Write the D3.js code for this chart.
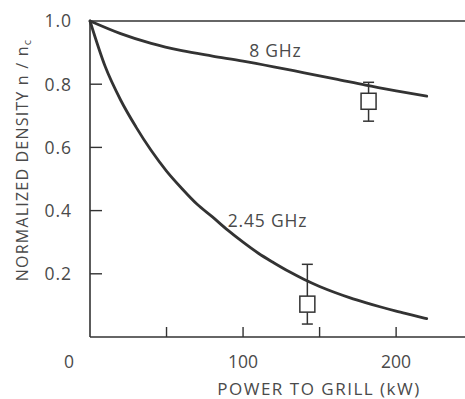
<!DOCTYPE html>
<html>
<head>
<meta charset="utf-8">
<script src="https://cdn.jsdelivr.net/npm/d3@7"></script>
<style>
html,body{margin:0;padding:0;background:#fff;}
svg{display:block;}
text{font-family:"Open Sans",sans-serif;fill:#4a4a4a;}
</style>
</head>
<body>
<svg id="chart" width="465" height="399"></svg>
<script>
// ---- data ----
const powerKW = [0, 10, 20, 30, 40, 50, 60, 70, 80, 90, 100, 110, 120, 130, 140, 150, 160, 170, 180, 190, 200, 210, 220];
const density245GHz = [1.0, 0.855, 0.75, 0.665, 0.59, 0.525, 0.47, 0.42, 0.38, 0.338, 0.3, 0.265, 0.235, 0.207, 0.182, 0.16, 0.141, 0.124, 0.109, 0.095, 0.082, 0.07, 0.058];
const power8GHz = [0, 20, 40, 60, 80, 100, 120, 140, 160, 180, 200, 220];
const density8GHz = [1.0, 0.96, 0.929, 0.906, 0.889, 0.873, 0.855, 0.836, 0.817, 0.797, 0.779, 0.762];
const measPower = [182, 142];
const measValue = [0.746, 0.104];
const measLow = [0.683, 0.041];
const measHigh = [0.806, 0.23];
const curveLabels = ["8 GHz", "2.45 GHz"];
const curveLabelPos = [[104, 0.886], [90, 0.348]];
const xTicks = [50, 100, 150, 200];
const xTickLabels = [100, 200];
const yTicks = [0.2, 0.4, 0.6, 0.8];
const yTickLabels = [0.2, 0.4, 0.6, 0.8, 1.0];

const svg = d3.select("#chart");
const x = d3.scaleLinear().domain([0, 245]).range([90, 465]);
const y = d3.scaleLinear().domain([0, 1]).range([337, 21]);
const ink = "#333";

// frame: left axis, bottom axis, top line
svg.append("line").attr("x1", x(0)).attr("x2", x(0)).attr("y1", y(0)).attr("y2", y(1))
  .attr("stroke", ink).attr("stroke-width", 1.6);
svg.append("line").attr("x1", x(0)).attr("x2", x(245)).attr("y1", y(0)).attr("y2", y(0))
  .attr("stroke", ink).attr("stroke-width", 1.6);
svg.append("line").attr("x1", x(0)).attr("x2", x(245)).attr("y1", y(1)).attr("y2", y(1))
  .attr("stroke", ink).attr("stroke-width", 1.4);

// inward ticks
svg.append("g").selectAll("line").data(yTicks).join("line")
  .attr("x1", x(0)).attr("x2", x(0) + 12).attr("y1", d => y(d)).attr("y2", d => y(d))
  .attr("stroke", ink).attr("stroke-width", 1.4);
svg.append("g").selectAll("line").data(xTicks).join("line")
  .attr("x1", d => x(d)).attr("x2", d => x(d)).attr("y1", y(0)).attr("y2", y(0) - 10)
  .attr("stroke", ink).attr("stroke-width", 1.4);

// tick labels
const fs = 17.5;
svg.append("g").selectAll("text").data(yTickLabels).join("text")
  .attr("x", 72).attr("y", d => y(d)).attr("dy", "0.36em")
  .attr("text-anchor", "end").attr("font-size", fs).attr("letter-spacing", 1)
  .text(d => d.toFixed(1));
svg.append("g").selectAll("text").data(xTickLabels).join("text")
  .attr("x", d => x(d)).attr("y", 368)
  .attr("text-anchor", "middle").attr("font-size", fs)
  .text(d => d);
svg.append("text").attr("x", 69).attr("y", 368).attr("text-anchor", "middle")
  .attr("font-size", fs).text("0");

// axis titles
svg.append("text").attr("x", 319).attr("y", 395).attr("text-anchor", "middle")
  .attr("font-size", 17).attr("letter-spacing", 1.5).text("POWER TO GRILL (kW)");
const yt = svg.append("text").attr("transform", "translate(28,160) rotate(-90)")
  .attr("text-anchor", "middle").attr("font-size", 16).attr("letter-spacing", 1.2);
yt.append("tspan").text("NORMALIZED DENSITY  n / n");
yt.append("tspan").attr("font-size", 11).attr("dy", 3).text("c");

// curves
const line = d3.line().x(d => x(d[0])).y(d => y(d[1])).curve(d3.curveMonotoneX);
svg.append("path").datum(d3.zip(powerKW, density245GHz)).attr("d", line)
  .attr("fill", "none").attr("stroke", ink).attr("stroke-width", 2.8).attr("stroke-linecap", "round");
svg.append("path").datum(d3.zip(power8GHz, density8GHz)).attr("d", line)
  .attr("fill", "none").attr("stroke", ink).attr("stroke-width", 2.8).attr("stroke-linecap", "round");

// curve labels
svg.append("g").selectAll("text").data(curveLabels).join("text")
  .attr("x", (d, i) => x(curveLabelPos[i][0])).attr("y", (d, i) => y(curveLabelPos[i][1]))
  .attr("font-size", 17.5).attr("letter-spacing", 0.8).text(d => d);

// measured points with error bars
const pts = measPower.map((p, i) => ({p, v: measValue[i], lo: measLow[i], hi: measHigh[i]}));
const bw = 15, bh = 16, cap = 11;
const g = svg.append("g").attr("stroke", ink).attr("stroke-width", 1.5).attr("fill", "#fff");
pts.forEach(d => {
  const cx = x(d.p), cy = y(d.v);
  g.append("line").attr("x1", cx).attr("x2", cx).attr("y1", y(d.hi)).attr("y2", cy - bh / 2);
  g.append("line").attr("x1", cx).attr("x2", cx).attr("y1", cy + bh / 2).attr("y2", y(d.lo));
  g.append("line").attr("x1", cx - cap / 2).attr("x2", cx + cap / 2).attr("y1", y(d.hi)).attr("y2", y(d.hi));
  g.append("line").attr("x1", cx - cap / 2).attr("x2", cx + cap / 2).attr("y1", y(d.lo)).attr("y2", y(d.lo));
  g.append("rect").attr("x", cx - bw / 2).attr("y", cy - bh / 2).attr("width", bw).attr("height", bh);
});
</script>
</body>
</html>
